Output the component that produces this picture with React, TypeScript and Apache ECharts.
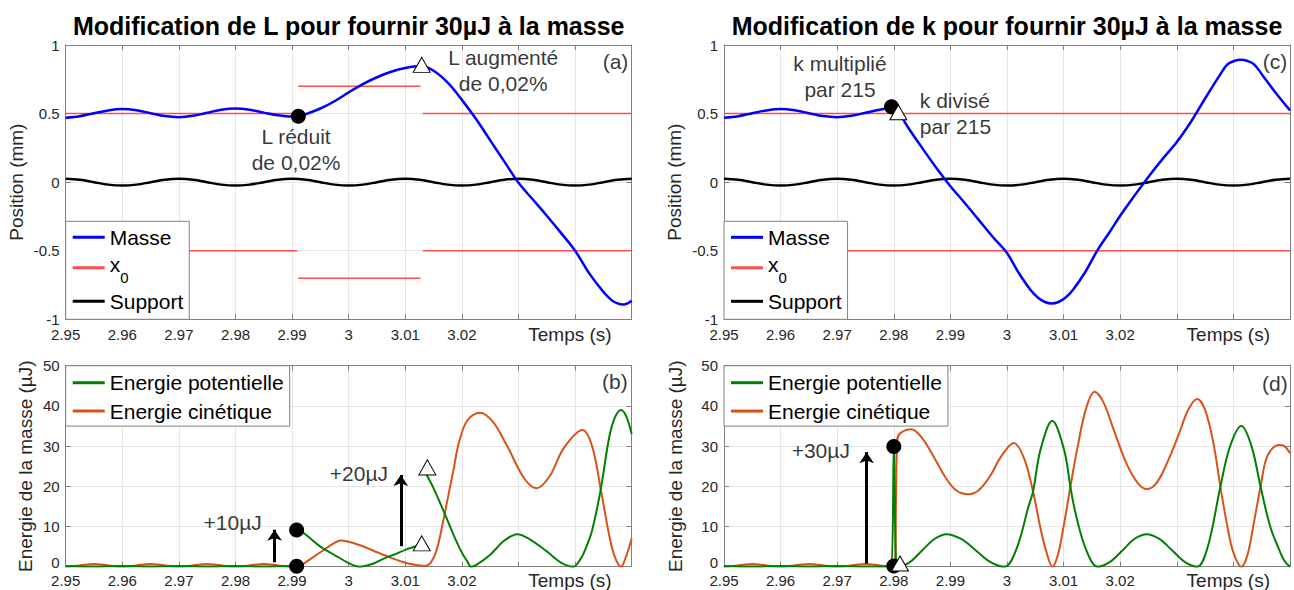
import React, { useEffect, useRef } from 'react';
import * as echarts from 'echarts';

const FONT = '"Liberation Sans", Arial, Helvetica, sans-serif';

// ---------- texts ----------
const titleL = 'Modification de L pour fournir 30µJ à la masse';
const titleK = 'Modification de k pour fournir 30µJ à la masse';
const legendTopNames = ['Masse', 'x0', 'Support'];
const legendBottomNames = ['Energie potentielle', 'Energie cinétique'];
const xName = 'Temps (s)';
const yNameTop = 'Position (mm)';
const yNameBottom = 'Energie de la masse (µJ)';

// ---------- data : time (s), value ----------
const support: number[][] = [
  [2.95, 0.025], [2.9525, 0.018], [2.955, 0], [2.9575, -0.018], [2.96, -0.025], [2.9625, -0.018], [2.965, 0], [2.9675, 0.018],
  [2.97, 0.025], [2.9725, 0.018], [2.975, 0], [2.9775, -0.018], [2.98, -0.025], [2.9825, -0.018], [2.985, 0], [2.9875, 0.018],
  [2.99, 0.025], [2.9925, 0.018], [2.995, 0], [2.9975, -0.018], [3.0, -0.025], [3.0025, -0.018], [3.005, 0], [3.0075, 0.018],
  [3.01, 0.025], [3.0125, 0.018], [3.015, 0], [3.0175, -0.018], [3.02, -0.025], [3.0225, -0.018], [3.025, 0], [3.0275, 0.018],
  [3.03, 0.025], [3.0325, 0.018], [3.035, 0], [3.0375, -0.018], [3.04, -0.025], [3.0425, -0.018], [3.045, 0], [3.0475, 0.018],
  [3.05, 0.025],
];

const masseL: number[][] = [
  [2.95, 0.47], [2.9525, 0.481], [2.955, 0.502], [2.9575, 0.523], [2.96, 0.533], [2.9625, 0.524], [2.965, 0.503], [2.9675, 0.482],
  [2.97, 0.474], [2.9725, 0.484], [2.975, 0.506], [2.9775, 0.528], [2.98, 0.537], [2.9825, 0.528], [2.985, 0.507], [2.9875, 0.487],
  [2.99, 0.478], [2.9911, 0.479], [2.9925, 0.497], [2.995, 0.537], [2.9975, 0.59], [3.0, 0.655], [3.0025, 0.715], [3.005, 0.765],
  [3.0075, 0.805], [3.01, 0.832], [3.0128, 0.846], [3.015, 0.812], [3.0175, 0.725], [3.02, 0.6], [3.0225, 0.46], [3.025, 0.305],
  [3.0275, 0.15], [3.03, -0.005], [3.0325, -0.125], [3.035, -0.245], [3.0375, -0.37], [3.04, -0.5], [3.0425, -0.665], [3.045, -0.8],
  [3.0465, -0.862], [3.0475, -0.884], [3.0485, -0.892], [3.0495, -0.879], [3.05, -0.865],
];

const masseK: number[][] = [
  [2.95, 0.47], [2.9525, 0.481], [2.955, 0.502], [2.9575, 0.523], [2.96, 0.533], [2.9625, 0.524], [2.965, 0.503], [2.9675, 0.482],
  [2.97, 0.474], [2.9725, 0.484], [2.975, 0.506], [2.9775, 0.528], [2.9796, 0.54], [2.9805, 0.53], [2.981, 0.505], [2.9825, 0.4],
  [2.985, 0.25], [2.9875, 0.105], [2.99, -0.03], [2.9925, -0.15], [2.995, -0.275], [2.9975, -0.4], [3.0, -0.517], [3.002, -0.657],
  [3.0042, -0.788], [3.0055, -0.843], [3.0067, -0.874], [3.0079, -0.885], [3.0091, -0.874], [3.0103, -0.843], [3.0116, -0.788],
  [3.0138, -0.657], [3.016, -0.495], [3.0182, -0.36], [3.02, -0.245], [3.0225, -0.1], [3.025, 0.04], [3.0275, 0.17], [3.03, 0.292],
  [3.0325, 0.44], [3.035, 0.61], [3.0376, 0.78], [3.0389, 0.857], [3.0401, 0.883], [3.0413, 0.893], [3.0425, 0.883], [3.0437, 0.857],
  [3.0454, 0.765], [3.0475, 0.65], [3.05, 0.523],
];

// x0 levels: start time, end time, level (mm)
const x0L = [
  { from: 2.95, to: 2.9909, y: 0.5 },
  { from: 2.95, to: 2.9909, y: -0.5 },
  { from: 2.9911, to: 3.0127, y: 0.7 },
  { from: 2.9911, to: 3.0127, y: -0.7 },
  { from: 3.0131, to: 3.05, y: 0.5 },
  { from: 3.0131, to: 3.05, y: -0.5 },
];
const x0K = [
  { from: 2.95, to: 3.05, y: 0.5 },
  { from: 2.95, to: 3.05, y: -0.5 },
];

const cinL: number[][] = [
  [2.95, 0], [2.9525, 0.33], [2.955, 0.65], [2.9575, 0.33], [2.96, 0], [2.9625, 0.33], [2.965, 0.65], [2.9675, 0.33],
  [2.97, 0], [2.9725, 0.33], [2.975, 0.65], [2.9775, 0.33], [2.98, 0], [2.9825, 0.33], [2.985, 0.65], [2.9875, 0.33],
  [2.99, 0], [2.9911, 0], [2.9925, 1.2], [2.995, 3.6], [2.9975, 5.9], [2.9985, 6.5], [3.0, 6.2], [3.0025, 5.1],
  [3.005, 3.6], [3.0075, 2.2], [3.01, 1.0], [3.0125, 0.3], [3.0135, 0.2], [3.0145, 1.0], [3.0155, 4.0], [3.0165, 10.0],
  [3.0175, 17.0], [3.0185, 24.0], [3.0195, 31.0], [3.021, 36.5], [3.0232, 38.3], [3.0255, 36.0], [3.028, 30.0], [3.031, 22.0],
  [3.0332, 19.5], [3.0355, 22.5], [3.038, 29.5], [3.0413, 34.0], [3.043, 30.0], [3.0445, 19.5], [3.046, 8.0], [3.047, 2.5],
  [3.0481, 0], [3.049, 2.5], [3.05, 7.0],
];
const potL1: number[][] = [
  [2.95, 0.15], [2.955, 0.02], [2.96, 0.15], [2.965, 0.02], [2.97, 0.15], [2.975, 0.02], [2.98, 0.15], [2.985, 0.02],
  [2.99, 0.15], [2.9911, 0.15],
];
const potL2: number[][] = [
  [2.9911, 9.3], [2.9925, 7.9], [2.995, 5.0], [2.9975, 2.9], [3.0, 0.9], [3.0019, 0], [3.004, 0.6], [3.006, 1.9],
  [3.008, 3.0], [3.01, 4.2], [3.0125, 5.4],
];
const potL3: number[][] = [
  [3.0136, 23.3], [3.015, 19.5], [3.0169, 13.4], [3.0185, 8.0], [3.02, 3.5], [3.021, 1.2], [3.0216, 0], [3.0225, 0.4],
  [3.025, 3.0], [3.0275, 6.5], [3.0298, 8.1], [3.032, 6.8], [3.035, 3.8], [3.0375, 1.0], [3.0397, 0], [3.041, 2.0],
  [3.042, 5.0], [3.043, 9.0], [3.0445, 19.0], [3.046, 32.0], [3.047, 37.0], [3.0481, 39.0], [3.049, 37.5], [3.05, 33.0],
];

const cinK: number[][] = [
  [2.95, 0], [2.9525, 0.33], [2.955, 0.65], [2.9575, 0.33], [2.96, 0], [2.9625, 0.33], [2.965, 0.65], [2.9675, 0.33],
  [2.97, 0], [2.9725, 0.33], [2.975, 0.65], [2.9775, 0.33], [2.98, 0], [2.9802, 0], [2.9806, 31.5], [2.9812, 33.3],
  [2.9831, 34.2], [2.985, 32.0], [2.987, 27.5], [2.989, 22.5], [2.991, 19.0], [2.9932, 18.0], [2.995, 19.0], [2.997, 22.5],
  [2.999, 27.5], [3.0012, 30.8], [3.003, 27.0], [3.0046, 18.7], [3.006, 9.0], [3.007, 3.5], [3.008, 0], [3.009, 3.0],
  [3.01, 10.0], [3.0112, 19.9], [3.0125, 30.0], [3.014, 39.5], [3.0155, 43.5], [3.017, 41.0], [3.019, 33.5], [3.021, 26.0],
  [3.023, 21.0], [3.0247, 19.3], [3.0265, 21.0], [3.0285, 26.5], [3.0305, 33.5], [3.032, 39.0], [3.0336, 41.7], [3.035, 39.0],
  [3.0365, 30.5], [3.0377, 19.9], [3.039, 9.5], [3.04, 3.5], [3.0414, 0], [3.0425, 3.0], [3.0435, 10.0], [3.0448, 19.9],
  [3.046, 27.5], [3.048, 30.3], [3.049, 30.0], [3.05, 28.2],
];
const potK: number[][] = [
  [2.95, 0.15], [2.955, 0.02], [2.96, 0.15], [2.965, 0.02], [2.97, 0.15], [2.975, 0.02], [2.9795, 0.12], [2.98, 30.0],
  [2.9804, 0.3], [2.9808, 0], [2.9829, 1.2], [2.985, 4.05], [2.9872, 6.9], [2.9893, 8.1], [2.9919, 6.9], [2.9945, 4.05],
  [2.997, 1.2], [2.9996, 0], [3.0017, 4.5], [3.0038, 15.0], [3.0046, 18.7], [3.0059, 29.0], [3.008, 36.3], [3.0101, 29.0],
  [3.0112, 19.9], [3.012, 14.0], [3.0139, 4.5], [3.016, 0], [3.0182, 1.2], [3.0204, 4.05], [3.0225, 6.9], [3.0247, 8.1],
  [3.0269, 6.9], [3.0292, 4.05], [3.0314, 1.2], [3.0336, 0], [3.0355, 5.1], [3.0377, 19.9], [3.0394, 29.9], [3.0414, 35.0],
  [3.0432, 30.0], [3.0448, 19.9], [3.0465, 10.0], [3.048, 4.5], [3.049, 1.5], [3.05, 0],
];

// event markers (time, value)
const circlesTL = [[2.9911, 0.48]];
const trianglesTL = [[3.0129, 0.855]];
const circlesTR = [[2.9796, 0.55]];
const trianglesTR = [[2.9808, 0.51]];
const circlesBL = [[2.9908, 0.1], [2.9908, 9.1]];
const trianglesBL = [[3.0129, 5.8], [3.0139, 24.7]];
const circlesBR = [[2.98, 0.2], [2.98, 29.9]];
const trianglesBR = [[2.9811, 0.8]];

// energy-injection arrows (time, from, to)
const arrowsBL = [
  { t: 2.9869, from: 1.1, to: 9.2 },
  { t: 3.0092, from: 5.1, to: 22.8 },
];
const arrowsBR = [{ t: 2.9752, from: 0.8, to: 28.5 }];

// annotation texts
const notesTL = [
  { text: 'L réduit\nde 0,02%', t: 2.9907, v: 0.235, align: 'center' },
  { text: 'L augmenté\nde 0,02%', t: 3.0273, v: 0.812, align: 'center' },
  { text: '(a)', t: 3.0494, v: 0.878, align: 'right' },
];
const notesTR = [
  { text: 'k multiplié\npar 215', t: 2.9705, v: 0.769, align: 'center' },
  { text: 'k divisé\npar 215', t: 2.9846, v: 0.502, align: 'left' },
  { text: '(c)', t: 3.0495, v: 0.878, align: 'right' },
];
const notesBL = [
  { text: '+10µJ', t: 2.9795, v: 10.9, align: 'center' },
  { text: '+20µJ', t: 3.0018, v: 23.3, align: 'center' },
  { text: '(b)', t: 3.0493, v: 46.0, align: 'right' },
];
const notesBR = [
  { text: '+30µJ', t: 2.9671, v: 29.0, align: 'center' },
  { text: '(d)', t: 3.0496, v: 45.6, align: 'right' },
];

// ---------- style ----------
const C = { masse: '#0000ff', x0: '#ff4d4d', support: '#000000', pot: '#008000', cin: '#d95319' };
const AX = '#808080';
const TXT = '#262626';
const GRIDC = '#e6e6e6';
const GRIDS = [
  { left: 65.7, top: 45, width: 566, height: 274.3 },
  { left: 724, top: 45, width: 566, height: 274.3 },
  { left: 65.7, top: 365.7, width: 566, height: 201 },
  { left: 724, top: 365.7, width: 566, height: 201 },
];
const Y_GAPS = [38.5, 38.5, 29.7, 38];

function lineS(name: string, data: number[][], color: string, width: number, gi: number, smooth: number | boolean, z = 3) {
  return {
    type: 'line', name, data, xAxisIndex: gi, yAxisIndex: gi, symbol: 'none', showSymbol: false,
    smooth, lineStyle: { color, width }, itemStyle: { color }, z, silent: true, clip: true,
  };
}

function markers(circles: number[][], triangles: number[][], gi: number, arrows?: { t: number; from: number; to: number }[]) {
  const out: any[] = [
    {
      type: 'scatter', name: 'evt-c', data: circles, xAxisIndex: gi, yAxisIndex: gi, symbol: 'circle', symbolSize: 15,
      itemStyle: { color: '#000', opacity: 1 }, z: 5, silent: true,
      markLine: arrows ? {
        silent: true, symbol: ['none', 'arrow'], symbolSize: 11, animation: false,
        lineStyle: { color: '#000', width: 3, type: 'solid', opacity: 1 }, label: { show: false },
        emphasis: { disabled: true },
        data: arrows.map((a) => [{ coord: [a.t, a.from] }, { coord: [a.t, a.to] }]),
      } : undefined,
    },
    {
      type: 'scatter', name: 'evt-t', data: triangles, xAxisIndex: gi, yAxisIndex: gi, symbol: 'triangle', symbolSize: [17, 15],
      itemStyle: { color: '#fff', borderColor: '#000', borderWidth: 1, opacity: 1 }, z: 6, silent: true,
    },
  ];
  return out;
}

function notes(list: { text: string; t: number; v: number; align: string }[], gi: number) {
  return {
    type: 'scatter', name: 'notes', xAxisIndex: gi, yAxisIndex: gi, symbolSize: 1, silent: true, z: 7,
    itemStyle: { color: 'transparent' },
    data: list.map((n) => ({
      value: [n.t, n.v],
      label: {
        show: true, position: 'inside', formatter: n.text, align: n.align, verticalAlign: 'middle',
        fontSize: 21, lineHeight: 26, color: '#000', fontFamily: FONT,
      },
    })),
  };
}

function buildOption() {
  const xAxes: any[] = [];
  const yAxes: any[] = [];
  for (let i = 0; i < 4; i++) {
    const top = i < 2;
    xAxes.push({
      type: 'value', gridIndex: i, min: 2.95, max: 3.05, interval: 0.01,
      name: xName, nameLocation: 'end', nameGap: -20,
      nameTextStyle: { fontSize: 19, color: TXT, align: 'right', verticalAlign: 'top', padding: [top ? 6 : 4, 0, 0, 0], fontFamily: FONT },
      axisLine: { show: true, onZero: false, lineStyle: { color: AX, width: 1 } },
      axisTick: { show: true, inside: true, length: 5, lineStyle: { color: AX } },
      axisLabel: {
        color: TXT, fontSize: 15, lineHeight: 13, margin: top ? 9 : 7, fontFamily: FONT,
        formatter: (v: number) => (v > 3.025 ? '' : String(Math.round(v * 100) / 100)),
      },
      splitLine: { show: true, lineStyle: { color: GRIDC, width: 1 } },
    });
    yAxes.push({
      type: 'value', gridIndex: i,
      min: top ? -1 : 0, max: top ? 1 : 50, interval: top ? 0.5 : 10,
      name: top ? yNameTop : yNameBottom, nameLocation: 'middle', nameGap: Y_GAPS[i],
      nameTextStyle: { fontSize: 19, color: TXT, lineHeight: 22, fontFamily: FONT },
      axisLine: { show: true, onZero: false, lineStyle: { color: AX, width: 1 } },
      axisTick: { show: true, inside: true, length: 5, lineStyle: { color: AX } },
      axisLabel: {
        color: TXT, fontSize: 15, lineHeight: 13, margin: 6, fontFamily: FONT,
        formatter: (v: number) => (!top && v === 0 ? '{z|0}' : String(v)),
        rich: { z: { fontSize: 15, lineHeight: 13, padding: [0, 0, 8, 0], color: TXT, fontFamily: FONT } },
      },
      splitLine: { show: true, lineStyle: { color: GRIDC, width: 1 } },
    });
  }
  for (let i = 0; i < 4; i++) {
    const top = i < 2;
    xAxes.push({
      type: 'value', gridIndex: i, position: 'top', min: 2.95, max: 3.05, interval: 0.01,
      axisLine: { show: true, onZero: false, lineStyle: { color: AX, width: 1 } },
      axisTick: { show: true, inside: true, length: 5, lineStyle: { color: AX } },
      axisLabel: { show: false }, splitLine: { show: false },
    });
    yAxes.push({
      type: 'value', gridIndex: i, position: 'right',
      min: top ? -1 : 0, max: top ? 1 : 50, interval: top ? 0.5 : 10,
      axisLine: { show: true, onZero: false, lineStyle: { color: AX, width: 1 } },
      axisTick: { show: true, inside: true, length: 5, lineStyle: { color: AX } },
      axisLabel: { show: false }, splitLine: { show: false },
    });
  }

  const series: any[] = [];
  // top-left
  x0L.forEach((s) => series.push(lineS('x0', [[s.from, s.y], [s.to, s.y]], C.x0, 1.5, 0, false, 2)));
  series.push(lineS('Support', support, C.support, 2.5, 0, 0.4));
  series.push(lineS('Masse', masseL, C.masse, 2.5, 0, 0.35, 4));
  series.push(...markers(circlesTL, trianglesTL, 0));
  series.push(notes(notesTL, 0));
  // top-right
  x0K.forEach((s) => series.push(lineS('x0', [[s.from, s.y], [s.to, s.y]], C.x0, 1.5, 1, false, 2)));
  series.push(lineS('Support', support, C.support, 2.5, 1, 0.4));
  series.push(lineS('Masse', masseK, C.masse, 2.5, 1, 0.35, 4));
  series.push(...markers(circlesTR, trianglesTR, 1));
  series.push(notes(notesTR, 1));
  // bottom-left
  series.push(lineS('Energie cinétique', cinL, C.cin, 2, 2, 0.35));
  series.push(lineS('Energie potentielle', potL1, C.pot, 2, 2, 0.35, 4));
  series.push(lineS('Energie potentielle', potL2, C.pot, 2, 2, 0.35, 4));
  series.push(lineS('Energie potentielle', potL3, C.pot, 2, 2, 0.35, 4));
  series.push(...markers(circlesBL, trianglesBL, 2, arrowsBL));
  series.push(notes(notesBL, 2));
  // bottom-right
  series.push(lineS('Energie cinétique', cinK, C.cin, 2, 3, 0.35));
  series.push(lineS('Energie potentielle', potK, C.pot, 2, 3, 0.35, 4));
  series.push(...markers(circlesBR, trianglesBR, 3, arrowsBR));
  series.push(notes(notesBR, 3));

  const legendBase = {
    orient: 'vertical', itemWidth: 32, itemHeight: 3, icon: 'rect', backgroundColor: '#fff',
    borderColor: AX, borderWidth: 1, borderRadius: 0, selectedMode: false,
    formatter: (n: string) => (n === 'x0' ? '{x|x}{s|0}' : n),
    textStyle: {
      fontSize: 21, color: '#000', lineHeight: 28, fontFamily: FONT,
      rich: {
        x: { fontSize: 21, lineHeight: 28, verticalAlign: 'top', color: '#000', fontFamily: FONT },
        s: { fontSize: 15, lineHeight: 15, verticalAlign: 'top', padding: [16, 0, 0, 0], color: '#000', fontFamily: FONT },
      },
    },
  };
  const legend = [
    { ...legendBase, data: legendTopNames, left: 65.7, bottom: 270.7, itemGap: 2.5, padding: [2, 6, 4, 7] },
    { ...legendBase, data: legendTopNames, left: 724, bottom: 270.7, itemGap: 2.5, padding: [2, 6, 4, 7] },
    { ...legendBase, data: legendBottomNames, left: 65.7, top: 365.7, itemGap: 0.4, padding: [3, 6, 1, 7] },
    { ...legendBase, data: legendBottomNames, left: 724, top: 365.7, itemGap: 0.4, padding: [3, 6, 1, 7] },
  ];

  const titleStyle = { fontSize: 25, fontWeight: 'bold', fill: '#000', fontFamily: FONT, align: 'center', verticalAlign: 'middle' };
  return {
    animation: false,
    backgroundColor: '#fff',
    textStyle: { fontFamily: FONT },
    grid: GRIDS.map((g) => ({ ...g, containLabel: false })),
    xAxis: xAxes,
    yAxis: yAxes,
    legend,
    series,
    graphic: [
      { type: 'text', x: 348.7, y: 26, silent: true, style: { ...titleStyle, text: titleL } },
      { type: 'text', x: 1007, y: 26, silent: true, style: { ...titleStyle, text: titleK } },
    ],
  };
}

export default function App() {
  const ref = useRef<HTMLDivElement>(null);
  useEffect(() => {
    document.body.style.margin = '0';
    const chart = echarts.init(ref.current!, null, { renderer: 'svg' });
    chart.setOption(buildOption() as any);
    return () => chart.dispose();
  }, []);
  return <div ref={ref} style={{ width: 1294, height: 590, background: '#fff' }} />;
}
